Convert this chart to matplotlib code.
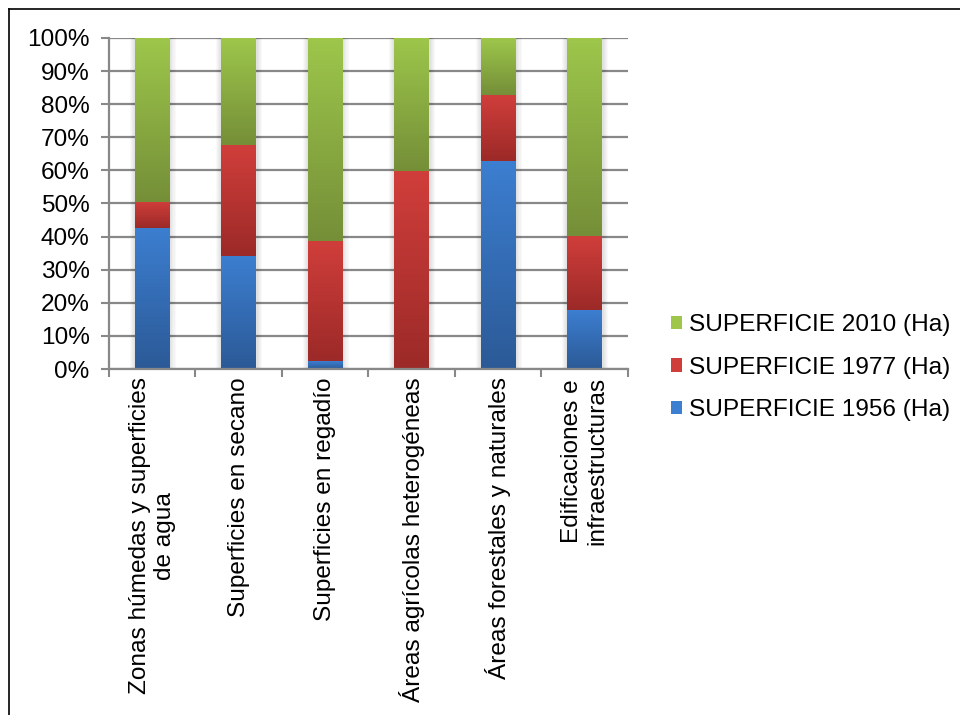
import numpy as np
import matplotlib
matplotlib.use("Agg")
import matplotlib.pyplot as plt
from matplotlib.patches import Patch, Rectangle
from matplotlib.colors import LinearSegmentedColormap

categories = ["Zonas húmedas y superficies\nde agua", "Superficies en secano",
              "Superficies en regadío", "Áreas agrícolas heterogéneas",
              "Áreas forestales y naturales", "Edificaciones e\ninfraestructuras"]
s1956 = [42.6, 34.2, 2.4, 0.0, 62.8, 17.8]
s1977 = [7.9, 33.5, 36.3, 59.8, 20.0, 22.4]
s2010 = [49.5, 32.3, 61.3, 40.2, 17.2, 59.8]
series_names = ["SUPERFICIE 1956 (Ha)", "SUPERFICIE 1977 (Ha)", "SUPERFICIE 2010 (Ha)"]
yticks = [0, 10, 20, 30, 40, 50, 60, 70, 80, 90, 100]

plt.rcParams['font.family'] = ['Liberation Sans', 'DejaVu Sans']
FS = 17.6

colors = {
    "SUPERFICIE 1956 (Ha)": ("#3C7ED0", "#2C5A97"),
    "SUPERFICIE 1977 (Ha)": ("#D03E3B", "#9C2A28"),
    "SUPERFICIE 2010 (Ha)": ("#9DC64B", "#758F38"),
}

fig = plt.figure(figsize=(9.6, 7.15), dpi=100)
ax = fig.add_axes([0.1135, 0.4839, 0.5406, 0.4630])

x = np.arange(len(categories))
width = 0.4
data = [s1956, s1977, s2010]
totals = np.array(s1956) + np.array(s1977) + np.array(s2010)
pct = [np.array(d) / totals * 100 for d in data]

# soft shadow
for xi, t in zip(x, totals):
    for k in range(1, 6):
        ax.add_patch(Rectangle((xi - width / 2 - 0.012 * k, -0.3 * k), width + 0.024 * k + 0.01,
                               100 + 0.3 * k, facecolor="#000000", alpha=0.025,
                               edgecolor="none", zorder=1.5))

bottom = np.zeros(len(categories))
grad = np.linspace(0, 1, 64).reshape(-1, 1)
for name, vals in zip(series_names, pct):
    bars = ax.bar(x, vals, width, bottom=bottom, color=colors[name][0], zorder=2, label=name)
    cmap = LinearSegmentedColormap.from_list(name, [colors[name][1], colors[name][0]])
    for b in bars:
        h = b.get_height()
        if h <= 0:
            continue
        bx, by, bw = b.get_x(), b.get_y(), b.get_width()
        im = ax.imshow(grad, extent=(bx, bx + bw, by, by + h), origin="lower",
                       cmap=cmap, aspect="auto", zorder=2.1, interpolation="bilinear")
        im.set_clip_path(b)
    bottom = bottom + vals

ax.set_xlim(-0.5, len(categories) - 0.5)
ax.set_ylim(0, 100)
ax.set_yticks(yticks)
ax.set_yticklabels([f"{v}%" for v in yticks], fontsize=FS)
ax.yaxis.grid(True, color="#888888", linewidth=1.6, zorder=1)
ax.set_axisbelow(True)
ax.set_xticks(np.arange(-0.5, len(categories), 1.0))
ax.set_xticklabels([])
ax.set_xticks(x, minor=True)
ax.set_xticklabels(categories, minor=True, rotation=90, fontsize=FS,
                   ha="center", va="top", multialignment="center")
ax.tick_params(axis="x", which="minor", length=0, pad=6)
ax.tick_params(axis="x", which="major", length=6, width=1.5, color="#888888")
ax.tick_params(axis="y", length=6, width=1.5, color="#888888", pad=8)
for s in ["top", "right"]:
    ax.spines[s].set_visible(False)
for s in ["left", "bottom"]:
    ax.spines[s].set_color("#888888")
    ax.spines[s].set_linewidth(1.6)

handles = [Patch(facecolor=colors[n][0], edgecolor="none") for n in series_names[::-1]]
fig.legend(handles, series_names[::-1], loc="center left", bbox_to_anchor=(0.699, 0.4858),
           frameon=False, fontsize=FS, handlelength=0.45, handleheight=0.45,
           handletextpad=0.3, labelspacing=0.83, borderaxespad=0, borderpad=0)

fig.add_artist(plt.Line2D([0.0095, 0.0095], [0, 0.9874], color="black", linewidth=1.2,
                          transform=fig.transFigure))
fig.add_artist(plt.Line2D([0.0095, 1.0], [0.9874, 0.9874], color="black", linewidth=1.2,
                          transform=fig.transFigure))

fig.savefig("out.png", dpi=100)
